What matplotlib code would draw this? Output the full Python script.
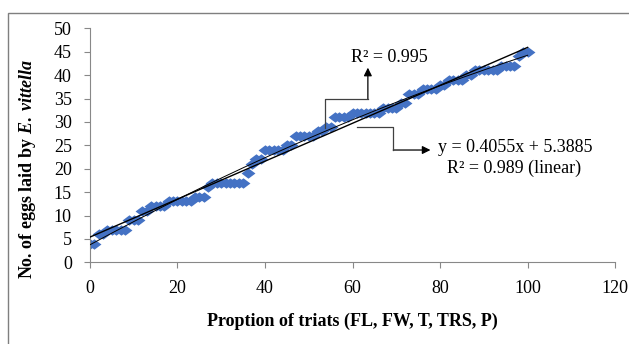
import numpy as np
import matplotlib.pyplot as plt
from matplotlib.patches import Rectangle

plt.rcParams['font.family'] = 'Liberation Serif'
plt.rcParams['mathtext.fontset'] = 'custom'
plt.rcParams['mathtext.rm'] = 'Liberation Serif:bold'
plt.rcParams['mathtext.it'] = 'Liberation Serif:italic:bold'

# data
x = np.arange(0, 101)
eggs = [4, 4, 6, 6, 7, 7, 7, 7, 7, 9, 9, 9, 11, 11, 12, 12, 12, 12,
        13, 13, 13, 13, 13, 13, 14, 14, 14, 16, 17, 17, 17, 17, 17, 17,
        17, 17, 19, 21, 22, 22, 24, 24, 24, 24, 24, 25, 25, 27, 27, 27,
        27, 27, 28, 28, 29, 29, 31, 31, 31, 31, 32, 32, 32, 32, 32, 32,
        32, 33, 33, 33, 33, 34, 34, 36, 36, 36, 37, 37, 37, 37, 38, 38,
        39, 39, 39, 39, 40, 40, 41, 41, 41, 41, 41, 41, 42, 42, 42, 42,
        44, 45, 45]
slope, intercept = 0.4055, 5.3885
xticks = [0, 20, 40, 60, 80, 100, 120]
yticks = [0, 5, 10, 15, 20, 25, 30, 35, 40, 45, 50]

fig = plt.figure(figsize=(6.29, 3.44), dpi=100)
ax = fig.add_axes([0.143, 0.2375, 0.835, 0.68])

# outer frame
fig.patches.append(Rectangle((8/629, -0.2), 1.2, 0.2 + 1 - 13/344,
                             transform=fig.transFigure, fill=False,
                             edgecolor='#7f7f7f', lw=1.0))

# wide diamond like the excel marker
diamond = [(-1, 0), (0, 0.75), (1, 0), (0, -0.75), (-1, 0)]
ax.plot(x, eggs, linestyle='none', marker=diamond, color='#4472C4',
        markersize=10, markeredgewidth=0, zorder=2)

# trend lines
xl = np.linspace(0, 100, 200)
ax.plot(xl, slope * xl + intercept, color='black', lw=1.0, zorder=3)
coef = np.polyfit(x, eggs, 2)
ax.plot(xl, np.polyval(coef, xl), color='black', lw=0.7, zorder=3)

# callouts
ax.plot([53.7, 53.7, 63.5], [28.7, 34.9, 34.9], color='#404040', lw=0.9, zorder=4)
ax.annotate('', xy=(63.5, 41.6), xytext=(63.5, 34.9),
            arrowprops=dict(arrowstyle='-|>', color='black', lw=0.9,
                            mutation_scale=12, shrinkA=0, shrinkB=0))
ax.text(68.3, 43.8, 'R² = 0.995', ha='center', va='center', fontsize=13)

ax.plot([61.0, 69.3, 69.3], [28.9, 28.9, 24.0], color='#404040', lw=0.9, zorder=4)
ax.annotate('', xy=(77.8, 24.0), xytext=(69.3, 24.0),
            arrowprops=dict(arrowstyle='-|>', color='black', lw=0.9,
                            mutation_scale=12, shrinkA=0, shrinkB=0))
ax.text(97.1, 24.6, 'y = 0.4055x + 5.3885', ha='center', va='center', fontsize=13)
ax.text(97.0, 20.1, 'R² = 0.989 (linear)', ha='center', va='center', fontsize=13)

ax.set_xlim(0, 120)
ax.set_ylim(0, 50)
ax.set_xticks(xticks)
ax.set_yticks(yticks)
ax.tick_params(labelsize=13, length=4, color='#888888')
ax.tick_params(axis='y', pad=9)
ax.tick_params(axis='x', pad=9)
for s in ['top', 'right']:
    ax.spines[s].set_visible(False)
for s in ['left', 'bottom']:
    ax.spines[s].set_color('#888888')

ax.set_xlabel('Proption of triats (FL, FW, T, TRS, P)', fontsize=13,
              fontweight='bold', labelpad=11)
ax.set_ylabel(r'No. of eggs laid by $E.\ vittella$', fontsize=13,
              fontweight='bold', va='center')
ax.yaxis.set_label_coords(-0.118, 0.40)

fig.savefig('out.png', dpi=100, facecolor='white')
